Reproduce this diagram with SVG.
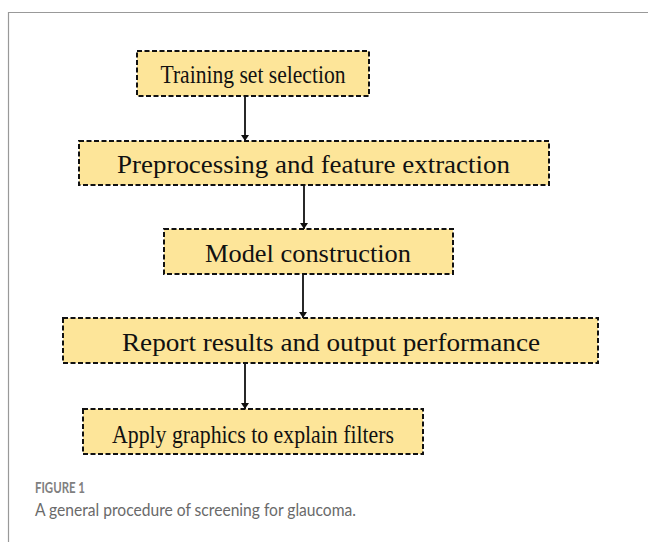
<svg xmlns="http://www.w3.org/2000/svg" width="648" height="542" viewBox="0 0 648 542">
<style>
.box{fill:#fde599;stroke:#111;stroke-width:2;stroke-dasharray:5 2.5}
.lbl{font-family:"Liberation Serif","Times New Roman",serif;font-size:25px;fill:#111;text-anchor:middle}
.con{stroke:#111;stroke-width:1.8;fill:none;marker-end:url(#ah)}
.cap1{font-family:Lato,"Open Sans",sans-serif;font-size:15px;font-weight:bold;fill:#808080}
.cap2{font-family:Lato,"Open Sans",sans-serif;font-size:18px;fill:#6a6a6a}
</style>
<defs>
<marker id="ah" viewBox="0 0 6 8" refX="6" refY="4" markerWidth="6" markerHeight="8" markerUnits="userSpaceOnUse" orient="auto">
<path d="M0,0 L6,4 L0,8 Z" fill="#111"/>
</marker>
</defs>
<path d="M648,12.5 H8.5 V542" fill="none" stroke="#999" stroke-width="1.2"/>
<g id="connectors">
<line class="con" x1="245" y1="96" x2="245" y2="141"/>
<line class="con" x1="304" y1="185" x2="304" y2="229"/>
<line class="con" x1="303" y1="274" x2="303" y2="318"/>
<line class="con" x1="245" y1="363" x2="245" y2="409"/>
</g>
<g id="n1">
<rect class="box" x="137" y="51" width="232" height="45"/>
<text class="lbl" x="253" y="83" textLength="185" lengthAdjust="spacingAndGlyphs">Training set selection</text>
</g>
<g id="n2">
<rect class="box" x="79" y="141" width="470" height="44"/>
<text class="lbl" x="313.5" y="173" textLength="393" lengthAdjust="spacingAndGlyphs">Preprocessing and feature extraction</text>
</g>
<g id="n3">
<rect class="box" x="164" y="229" width="289" height="45"/>
<text class="lbl" x="308" y="262" textLength="206" lengthAdjust="spacingAndGlyphs">Model construction</text>
</g>
<g id="n4">
<rect class="box" x="63" y="318" width="535" height="45"/>
<text class="lbl" x="331" y="351" textLength="418" lengthAdjust="spacingAndGlyphs">Report results and output performance</text>
</g>
<g id="n5">
<rect class="box" x="83" y="409" width="340" height="45"/>
<text class="lbl" x="253" y="443" textLength="282" lengthAdjust="spacingAndGlyphs">Apply graphics to explain filters</text>
</g>
<text class="cap1" x="35" y="493" textLength="50" lengthAdjust="spacingAndGlyphs">FIGURE 1</text>
<text class="cap2" x="35" y="516" textLength="321" lengthAdjust="spacingAndGlyphs">A general procedure of screening for glaucoma.</text>
</svg>
